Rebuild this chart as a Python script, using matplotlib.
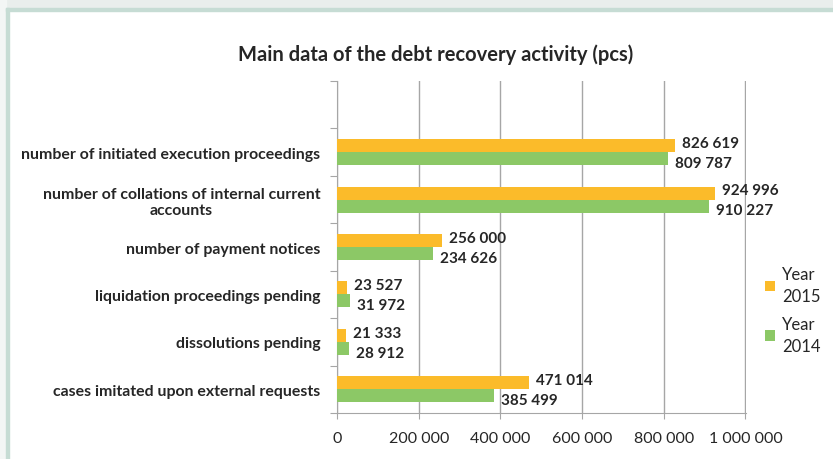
import numpy as np
import matplotlib
matplotlib.use("Agg")
import matplotlib.pyplot as plt
from matplotlib.patches import Rectangle

plt.rcParams['font.family'] = ['Lato', 'DejaVu Sans']

# data (bottom to top, as drawn)
categories = [
    "cases imitated upon external requests",
    "dissolutions pending",
    "liquidation proceedings pending",
    "number of payment notices",
    "number of collations of internal current\naccounts",
    "number of initiated execution proceedings",
]
year_2015 = [471014, 21333, 23527, 256000, 924996, 826619]
year_2014 = [385499, 28912, 31972, 234626, 910227, 809787]
labels_2015 = ["471 014", "21 333", "23 527", "256 000", "924 996", "826 619"]
labels_2014 = ["385 499", "28 912", "31 972", "234 626", "910 227", "809 787"]
xticks = [0, 200000, 400000, 600000, 800000, 1000000]
xtick_labels = ["0", "200 000", "400 000", "600 000", "800 000", "1 000 000"]

c15 = "#fbbb2a"
c14 = "#8cc866"
txt = "#262626"
grid = "#a6a6a6"

fig = plt.figure(figsize=(8.33, 4.6), dpi=100)

# frame decoration
fig.patches.append(Rectangle((0, 0.98), 1, 0.02, transform=fig.transFigure,
                             color="#e9eeec", zorder=0))
fig.patches.append(Rectangle((0, 0), 0.0072, 1, transform=fig.transFigure,
                             color="#f3f6f5", zorder=0))
fig.patches.append(Rectangle((0.0072, 0.9739), 0.9928, 0.0065, transform=fig.transFigure,
                             color="#c6dcd4", zorder=1))
fig.patches.append(Rectangle((0.0072, 0), 0.0036, 0.98, transform=fig.transFigure,
                             color="#c6dcd4", zorder=1))

ax = fig.add_axes([0.4046, 0.1, 0.491, 0.7217])

y = np.arange(len(categories))
h = 0.275
ax.barh(y + h / 2, year_2015, height=h, color=c15, label="Year\n2015", zorder=3)
ax.barh(y - h / 2, year_2014, height=h, color=c14, label="Year\n2014", zorder=3)

for i in range(len(categories)):
    ax.annotate(labels_2015[i], (year_2015[i], y[i] + h / 2), xytext=(5, 2),
                textcoords="offset points", va="center", ha="left",
                fontsize=11, fontweight="bold", color=txt)
    ax.annotate(labels_2014[i], (year_2014[i], y[i] - h / 2), xytext=(5, -3),
                textcoords="offset points", va="center", ha="left",
                fontsize=11, fontweight="bold", color=txt)

ax.set_xlim(0, 1001500)
ax.set_ylim(-0.5, 6.5)
ax.set_xticks(xticks)
ax.set_xticklabels(xtick_labels, fontsize=11.5, color=txt)
ax.set_yticks(np.arange(-0.5, 7.0, 1.0))
ax.set_yticklabels([])
ax.set_yticks(y, minor=True)
ax.set_yticklabels(categories, minor=True, fontsize=11.4, fontweight="bold", color=txt)
for lab in ax.get_yticklabels(minor=True):
    lab.set_multialignment("center")
ax.tick_params(axis="y", which="minor", length=0, pad=12)
ax.tick_params(axis="y", which="major", length=5, color=grid, direction="out")
ax.tick_params(axis="x", length=4, color=grid, pad=9)

ax.xaxis.grid(True, color=grid, linewidth=1, zorder=0)
for s in ["top", "right"]:
    ax.spines[s].set_visible(False)
for s in ["left", "bottom"]:
    ax.spines[s].set_color(grid)

leg = ax.legend(loc="center left", bbox_to_anchor=(1.01, 0.31), frameon=False,
                fontsize=12, handlelength=0.6, handleheight=0.6, handletextpad=0.4,
                labelspacing=0.7, labelcolor=txt)
for t in leg.get_texts():
    t.set_linespacing(1.45)

fig.text(0.523, 0.88, "Main data of the debt recovery activity (pcs)", ha="center",
         va="center", fontsize=14.5, fontweight="bold", color=txt)

fig.savefig("out.png", dpi=100)
